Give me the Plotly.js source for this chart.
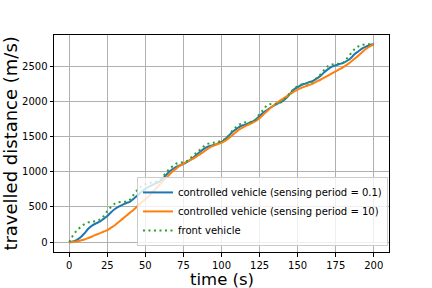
<!DOCTYPE html>
<html>
<head>
<meta charset="utf-8">
<script src="https://cdn.plot.ly/plotly-3.0.1.min.js"></script>
<style>html,body{margin:0;padding:0;background:#fff}#chart{width:432px;height:288px}</style>
</head>
<body>
<div id="chart"></div>
<script>
const timeS = [0,2.5,5,7.5,10,12.5,15,17.5,20,22.5,25,27.5,30,32.5,35,37.5,40,42.5,45,47.5,50,52.5,55,57.5,60,62.5,65,67.5,70,72.5,75,77.5,80,82.5,85,87.5,90,92.5,95,97.5,100,102.5,105,107.5,110,112.5,115,117.5,120,122.5,125,127.5,130,132.5,135,137.5,140,142.5,145,147.5,150,152.5,155,157.5,160,162.5,165,167.5,170,172.5,175,177.5,180,182.5,185,187.5,190,192.5,195,197.5,200];

const controlledFast = [0,10,33,70,125,190,235,265,290,330,372,425,470,505,530,555,575,620,665,715,755,790,815,840,870,925,985,1030,1065,1090,1110,1140,1175,1220,1265,1310,1345,1365,1378,1400,1425,1465,1515,1570,1610,1645,1665,1685,1705,1740,1790,1840,1876,1915,1945,1975,2000,2045,2105,2165,2200,2230,2250,2270,2290,2320,2360,2410,2455,2490,2510,2528,2545,2575,2615,2670,2710,2750,2775,2800,2810];

const controlledSlow = [0,3,10,22,38,58,80,105,125,148,170,205,240,285,330,375,420,465,515,565,610,660,715,770,830,885,940,995,1040,1080,1115,1145,1170,1200,1235,1270,1310,1345,1370,1392,1410,1440,1480,1525,1570,1610,1640,1665,1690,1720,1760,1810,1860,1910,1950,1995,2030,2065,2100,2135,2165,2190,2210,2230,2250,2280,2305,2335,2365,2395,2425,2455,2485,2520,2560,2605,2650,2700,2745,2780,2805];

const frontVehicle = [0,95,165,215,255,280,292,298,318,365,440,500,545,565,571,578,605,680,745,795,822,840,848,862,895,955,1020,1070,1110,1128,1135,1155,1200,1250,1295,1345,1385,1405,1412,1420,1440,1470,1520,1590,1640,1680,1700,1705,1710,1740,1820,1880,1945,1960,1962,1968,1995,2050,2120,2175,2215,2238,2248,2255,2280,2330,2380,2445,2500,2520,2528,2535,2550,2610,2680,2740,2780,2800,2808,2810,2810];

const seriesNames = ['controlled vehicle (sensing period = 0.1)','controlled vehicle (sensing period = 10)','front vehicle'];
const xTicks = [0,25,50,75,100,125,150,175,200];
const yTicks = [0,500,1000,1500,2000,2500];
const xTitle = 'time (s)';
const yTitle = 'travelled distance (m/s)';

const traces = [
  {x: timeS, y: controlledFast, name: seriesNames[0], mode: 'lines', line: {color: '#1f77b4', width: 2, shape: 'spline'}},
  {x: timeS, y: controlledSlow, name: seriesNames[1], mode: 'lines', line: {color: '#ff7f0e', width: 2, shape: 'spline'}},
  {x: timeS, y: frontVehicle, name: seriesNames[2], mode: 'lines', line: {color: '#2ca02c', width: 2, dash: '2px,3.5px', shape: 'spline'}}
];

const axisCommon = {
  showline: true, linecolor: '#000', linewidth: 1, mirror: true,
  showgrid: true, gridcolor: '#b0b0b0', gridwidth: 1,
  zeroline: false, ticks: 'outside', ticklen: 3.5, tickcolor: '#000', tickwidth: 1,
  tickfont: {family: 'DejaVu Sans', size: 10, color: '#000'}
};

const layout = {
  width: 432, height: 288,
  margin: {l: 54, r: 43, t: 35, b: 36},
  paper_bgcolor: '#fff', plot_bgcolor: '#fff',
  showlegend: true,
  legend: {
    x: 0.997, xanchor: 'right', y: 0.028, yanchor: 'bottom',
    bgcolor: 'rgba(255,255,255,0.8)', bordercolor: '#cccccc', borderwidth: 1,
    font: {family: 'DejaVu Sans', size: 10, color: '#000'},
    tracegroupgap: 0
  },
  xaxis: Object.assign({}, axisCommon, {
    range: [-10, 210], tickvals: xTicks, ticktext: xTicks.map(String)
  }),
  yaxis: Object.assign({}, axisCommon, {
    range: [-140, 2940], tickvals: yTicks, ticktext: yTicks.map(String)
  }),
  annotations: [
    {text: xTitle, xref: 'paper', yref: 'paper', x: 0.5, y: -0.127, xanchor: 'center', yanchor: 'middle', showarrow: false, borderpad: 0,
     font: {family: 'DejaVu Sans', size: 16.5, color: '#000'}},
    {text: yTitle, xref: 'paper', yref: 'paper', x: -0.131, y: 0.5, xanchor: 'center', yanchor: 'middle', textangle: -90, showarrow: false, borderpad: 0,
     font: {family: 'DejaVu Sans', size: 18, color: '#000'}}
  ]
};

Plotly.newPlot('chart', traces, layout, {displayModeBar: false, staticPlot: true});
</script>
</body>
</html>
